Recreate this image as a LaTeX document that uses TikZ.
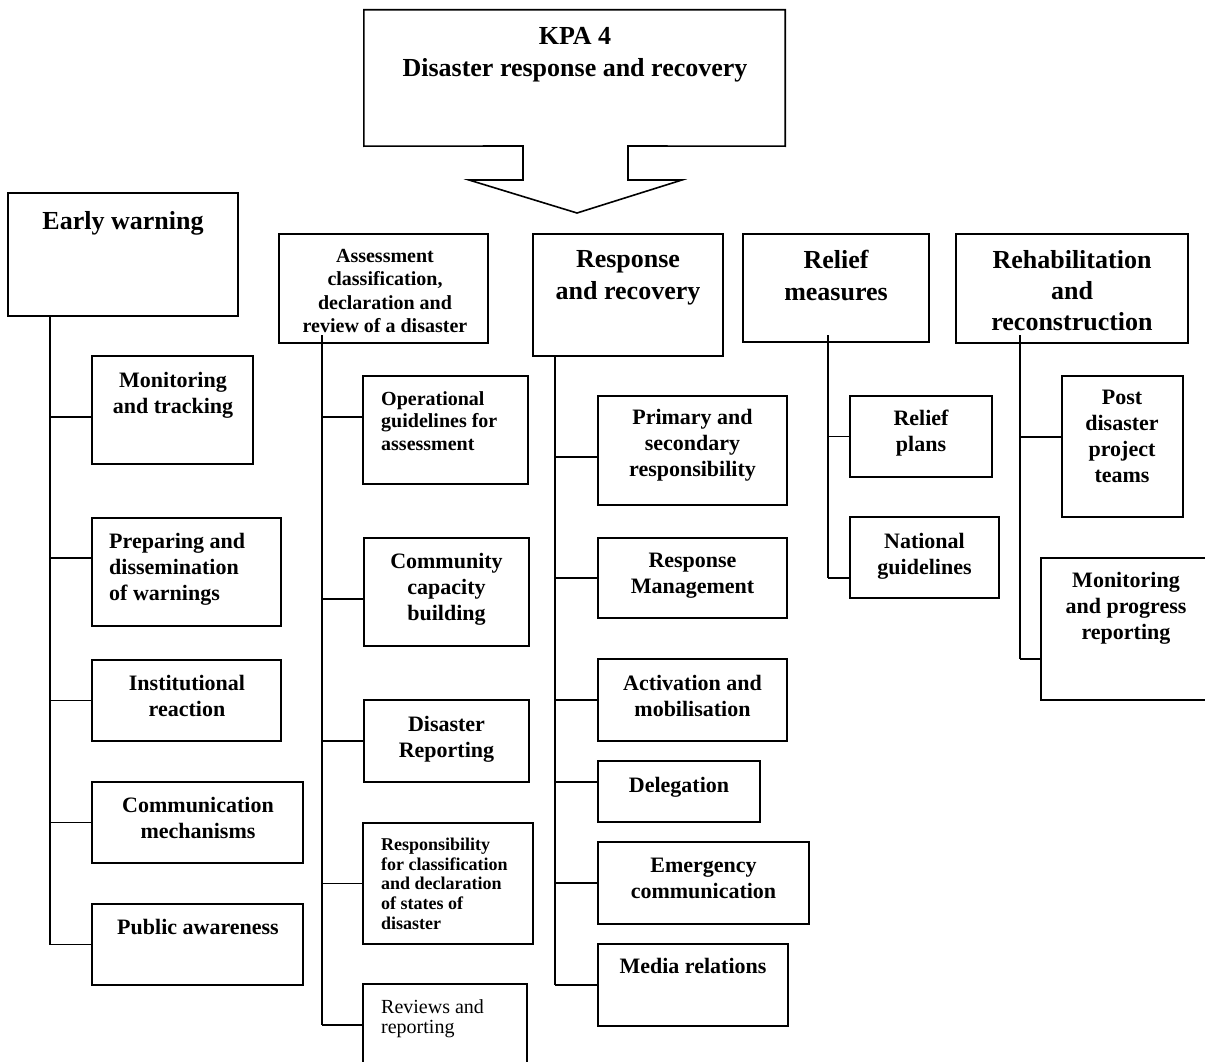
\documentclass[tikz,border=0pt]{standalone}
\usepackage{fontspec}
\setmainfont{Liberation Serif}

\tikzset{
  frm/.style={draw, line width=1.6pt, inner sep=0pt},
  link/.style={line width=1.6pt},
  ttl/.style={font=\fontsize{26}{32}\selectfont\bfseries, align=center, inner sep=0pt, anchor=north},
  lbl/.style={font=\fontsize{22}{26}\selectfont\bfseries, align=center, inner sep=0pt, anchor=north},
  lbll/.style={lbl, align=left, anchor=north west},
}
% box from its two corners: name, x1, y1, x2, y2
\newcommand\kbox[6][frm]{\node [#1, minimum width={#5-#3}, minimum height={#6-#4}] (#2) at ({(#3+#5)/2},{(#4+#6)/2}) {};}

\begin{document}
\begin{tikzpicture}[x=1pt,y=1pt,yscale=-1,xscale=1]
\clip (0,0) rectangle (1205,1062);

%KPA arrow box
\kbox[inner sep=0pt]{kpa}{364}{10}{785}{146}
\draw [link, line join=miter] (523,146) -- (kpa.south west) -- (kpa.north west) -- (kpa.north east) -- (kpa.south east) -- (628,146) -- (628,180) -- (682,180) -- (577,213) -- (469,180) -- (523,180) -- cycle ;
% Text Node
\node [ttl] (kpat) at (575,27.3) {KPA 4\\Disaster response and recovery};

%Main boxes
\kbox{ew}{8}{193}{238}{316}
\kbox{as}{279}{234}{488}{343}
\kbox{rs}{533}{234}{723}{356}
\kbox{rl}{743}{234}{929}{342}
\kbox{rh}{956}{234}{1188}{343}

% Text Node
\node [ttl] (ewt) at (123,211.3) {Early warning};
% Text Node
\node [lbl, font=\fontsize{20}{23.3}\selectfont\bfseries] (ast) at (385,249) {Assessment\\classification,\\declaration and\\review of a disaster};
% Text Node
\node [ttl] (rst) at (628,250.3) {Response\\and recovery};
% Text Node
\node [ttl] (rlt) at (836,250.3) {Relief\\measures};
% Text Node
\node [ttl, font=\fontsize{26}{31}\selectfont\bfseries] (rht) at (1072,250.3) {Rehabilitation\\and\\reconstruction};

%Early warning column
\kbox{mt}{92}{356}{253}{464}
\kbox{pd}{92}{518}{281}{626}
\kbox{ir}{92}{660}{281}{741}
\kbox{cm}{92}{782}{303}{863}
\kbox{pa}{92}{904}{303}{985}
\node [lbl] (mtt) at (173,372) {Monitoring\\and tracking};
\node [lbll] (pdt) at (109,533) {Preparing and\\dissemination\\of warnings};
\node [lbl] (irt) at (187,675) {Institutional\\reaction};
\node [lbl] (cmt) at (198,797) {Communication\\mechanisms};
\node [lbl] (pat) at (198,919) {Public awareness};

%Assessment column
\kbox{og}{363}{376}{528}{484}
\kbox{cc}{364}{538}{529}{646}
\kbox{dr}{364}{700}{529}{782}
\kbox{rc}{363}{823}{533}{944}
\kbox{rr}{363}{984}{527}{1066}
\node [lbll, font=\fontsize{20}{22.5}\selectfont\bfseries] (ogt) at (381,391.4) {Operational\\guidelines for\\assessment};
\node [lbl] (cct) at (446.5,553) {Community\\capacity\\building};
\node [lbl] (drt) at (446.5,716) {Disaster\\Reporting};
\node [lbll, font=\fontsize{18}{19.7}\selectfont\bfseries] (rct) at (381,837.8) {Responsibility\\for classification\\and declaration\\of states of\\disaster};
\node [lbll, font=\fontsize{20}{20}\selectfont] (rrt) at (381,999.4) {Reviews and\\reporting};

%Response column
\kbox{ps}{598}{396}{787}{505}
\kbox{rm}{598}{538}{787}{618}
\kbox{am}{598}{659}{787}{741}
\kbox{de}{598}{761}{760}{822}
\kbox{ec}{598}{842}{809}{924}
\kbox{mr}{598}{944}{788}{1026}
\node [lbl] (pst) at (692.5,409.5) {Primary and\\secondary\\responsibility};
\node [lbl] (rmt) at (692.5,553) {Response\\Management};
\node [lbl] (amt) at (692.5,675) {Activation and\\mobilisation};
\node [lbl] (det) at (679,777) {Delegation};
\node [lbl] (ect) at (703.5,858) {Emergency\\communication};
\node [lbl] (mrt) at (693,958) {Media relations};

%Relief column
\kbox{rp}{850}{396}{992}{477}
\kbox{ng}{850}{517}{999}{598}
\node [lbl] (rpt) at (921,410) {Relief\\plans};
\node [lbl] (ngt) at (924.5,533) {National\\guidelines};

%Rehabilitation column
\kbox{pt}{1062}{376}{1183}{517}
\kbox{mp}{1041}{558}{1212}{700}
\node [lbl] (ptt) at (1122,390) {Post\\disaster\\project\\teams};
\node [lbl] (mpt) at (1126,572) {Monitoring\\and progress\\reporting};

%Trunk tops
\coordinate (t1) at (50,316);
\coordinate (t2) at (322,335);
\coordinate (t3) at (555,356);
\coordinate (t4) at (828,335);
\coordinate (t5) at (1020,335);

%Branch points (yshift follows the flipped y axis)
\coordinate (mtc) at ([yshift=7pt]mt.west);
\coordinate (pdc) at ([yshift=-14pt]pd.west);
\coordinate (ogc) at ([yshift=-13pt]og.west);
\coordinate (ccc) at ([yshift=7pt]cc.west);
\coordinate (psc) at ([yshift=6.5pt]ps.west);
\coordinate (dec) at ([yshift=-9.5pt]de.west);
\coordinate (ngc) at ([yshift=20.5pt]ng.west);
\coordinate (ptc) at ([yshift=-9.5pt]pt.west);
\coordinate (mpc) at ([yshift=30pt]mp.west);

%Straight Lines
\draw [link] (t1) -- (t1 |- pa.west) ;
\draw [link] (t1 |- mtc) -- (mtc) ;
\draw [link] (t1 |- pdc) -- (pdc) ;
\draw [link] (t1 |- ir.west) -- (ir.west) ;
\draw [link] (t1 |- cm.west) -- (cm.west) ;
\draw [link] (t1 |- pa.west) -- (pa.west) ;
%Straight Lines
\draw [link] (t2) -- (t2 |- rr.west) ;
\draw [link] (t2 |- ogc) -- (ogc) ;
\draw [link] (t2 |- ccc) -- (ccc) ;
\draw [link] (t2 |- dr.west) -- (dr.west) ;
\draw [link] (t2 |- rc.west) -- (rc.west) ;
\draw [link] (t2 |- rr.west) -- (rr.west) ;
%Straight Lines
\draw [link] (t3) -- (t3 |- mr.west) ;
\draw [link] (t3 |- psc) -- (psc) ;
\draw [link] (t3 |- rm.west) -- (rm.west) ;
\draw [link] (t3 |- am.west) -- (am.west) ;
\draw [link] (t3 |- dec) -- (dec) ;
\draw [link] (t3 |- ec.west) -- (ec.west) ;
\draw [link] (t3 |- mr.west) -- (mr.west) ;
%Straight Lines
\draw [link] (t4) -- (t4 |- ngc) ;
\draw [link] (t4 |- rp.west) -- (rp.west) ;
\draw [link] (t4 |- ngc) -- (ngc) ;
%Straight Lines
\draw [link] (t5) -- (t5 |- mpc) ;
\draw [link] (t5 |- ptc) -- (ptc) ;
\draw [link] (t5 |- mpc) -- (mpc) ;

\end{tikzpicture}
\end{document}
